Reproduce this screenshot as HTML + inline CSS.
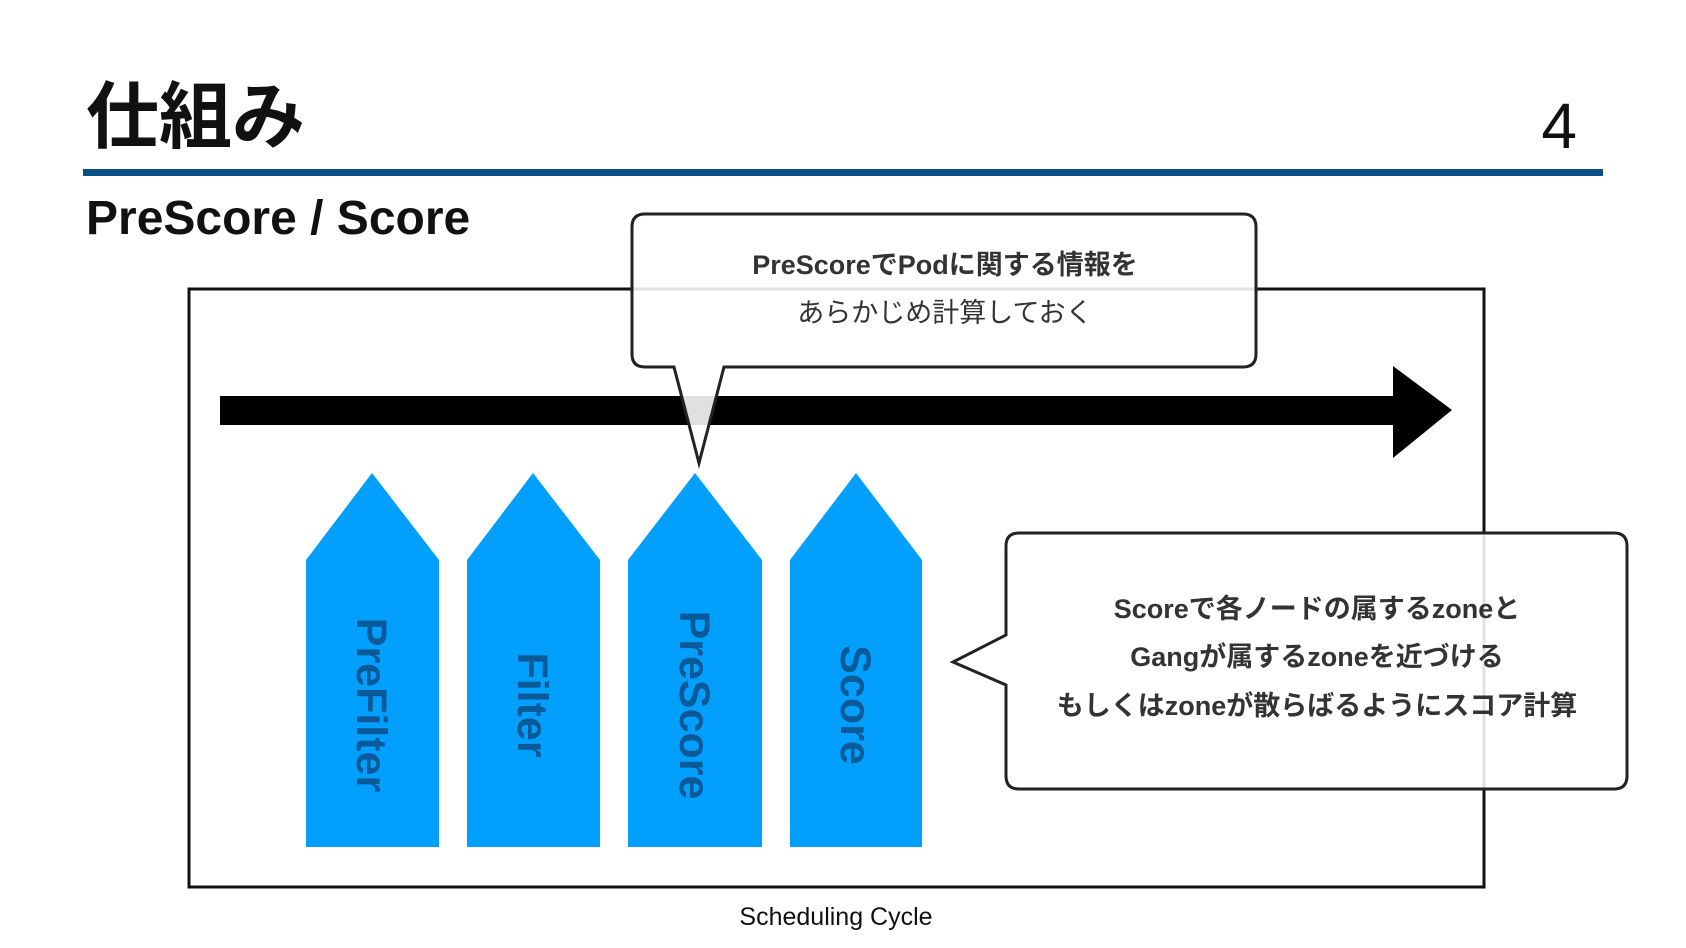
<!DOCTYPE html>
<html><head><meta charset="utf-8"><style>
html,body{margin:0;padding:0;background:#fff;}
svg{display:block;}
</style></head><body>
<svg width="1686" height="948" viewBox="0 0 1686 948" xmlns="http://www.w3.org/2000/svg">
<text x="86" y="142" font-family="Liberation Sans, Noto Sans CJK JP, sans-serif" font-size="73" font-weight="bold" fill="#111">仕組み</text>
<text x="1577" y="148" text-anchor="end" font-family="Liberation Sans, sans-serif" font-size="64" fill="#111">4</text>
<rect x="83" y="169" width="1520" height="7" fill="#0a4f84"/>
<text x="86" y="234" font-family="Liberation Sans, sans-serif" font-size="48" font-weight="bold" fill="#111">PreScore / Score</text>
<rect x="189" y="289" width="1295" height="598" fill="none" stroke="#111" stroke-width="3"/>
<rect x="220" y="396" width="1173" height="29" fill="#000"/>
<polygon points="1393,366 1452,410 1393,458" fill="#000"/>
<g fill="#039ffd">
<polygon points="306,560 372,473 439,560 439,847 306,847"/>
<polygon points="467,560 533,473 600,560 600,847 467,847"/>
<polygon points="628,560 695,473 762,560 762,847 628,847"/>
<polygon points="790,560 856,473 922,560 922,847 790,847"/>
</g>
<g font-family="Liberation Sans, sans-serif" font-size="43" font-weight="bold" fill="#0a5a9a" text-anchor="middle">
<text transform="translate(357,705) rotate(90)">PreFilter</text>
<text transform="translate(518,705) rotate(90)">Filter</text>
<text transform="translate(680,705) rotate(90)">PreScore</text>
<text transform="translate(841,705) rotate(90)">Score</text>
</g>
<path d="M646,214 H1243 Q1256,214 1256,227 V354 Q1256,367 1243,367 H724 L699,463 L674,367 H645 Q632,367 632,354 V227 Q632,214 645,214 Z" fill="#fff" fill-opacity="0.88" stroke="#222" stroke-width="3"/>
<g font-family="Liberation Sans, Noto Sans CJK JP, sans-serif" font-size="27" fill="#333" text-anchor="middle">
<text x="945" y="274" font-weight="bold">PreScoreでPodに関する情報を</text>
<text x="945" y="322">あらかじめ計算しておく</text>
</g>
<path d="M1020,533 H1614 Q1627,533 1627,546 V776 Q1627,789 1614,789 H1019 Q1006,789 1006,776 V685 L953,662 L1006,635 V546 Q1006,533 1019,533 Z" fill="#fff" fill-opacity="0.88" stroke="#222" stroke-width="3"/>
<g font-family="Liberation Sans, Noto Sans CJK JP, sans-serif" font-size="27" font-weight="bold" fill="#333" text-anchor="middle">
<text x="1317" y="618">Scoreで各ノードの属するzoneと</text>
<text x="1317" y="666">Gangが属するzoneを近づける</text>
<text x="1317" y="715">もしくはzoneが散らばるようにスコア計算</text>
</g>
<text x="836" y="925" text-anchor="middle" font-family="Liberation Sans, sans-serif" font-size="25" fill="#111">Scheduling Cycle</text>
</svg>
</body></html>
